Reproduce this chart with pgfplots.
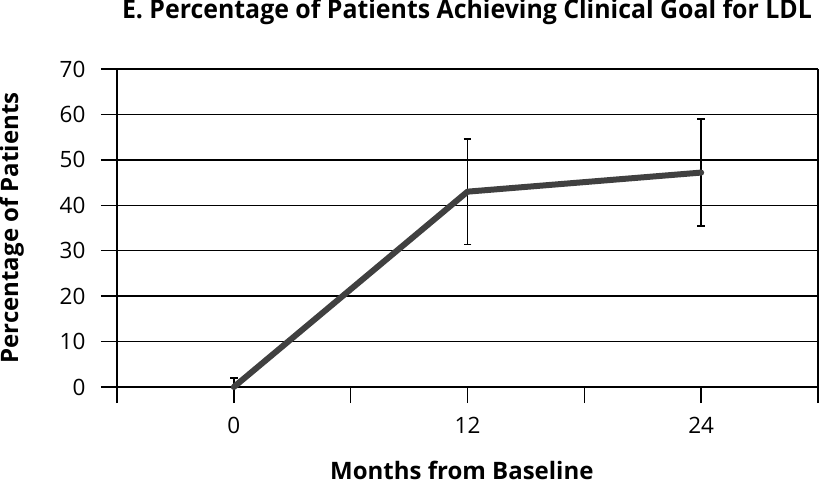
\documentclass[border=0pt]{standalone}
\usepackage{pgfplots}
\pgfplotsset{compat=1.18}
\usepackage{fontspec}
\setmainfont{Open Sans}
\definecolor{linegray}{RGB}{64,64,64}
\begin{document}
\begin{tikzpicture}[x=1pt,y=1pt]
\useasboundingbox (-117,-100) rectangle (704,387);
\begin{axis}[
  at={(0,0)}, anchor=south west,
  scale only axis, width=701pt, height=318pt,
  xmin=-6, xmax=30, ymin=0, ymax=70,
  xtick={-6,0,6,12,18,24,30}, xticklabels={,0,,12,,24,},
  ytick={0,10,...,70},
  xtick pos=lower, ytick pos=left,
  tick align=outside, major tick length=16pt,
  ymajorgrids, grid style={black, line width=1.4pt},
  axis line style={black, line width=1.4pt},
  tick style={black, line width=1.4pt},
  axis x line*=bottom,
  /pgf/number format/assume math mode=true,
  tick label style={font=\fontsize{22.5}{22.5}\selectfont},
  yticklabel style={xshift=-12pt},
  xticklabel style={yshift=-11pt},
  title={\resizebox{690pt}{\height}{E. Percentage of Patients Achieving Clinical Goal for LDL}},
  title style={at={(axis description cs:0.4993,1)}, anchor=base, yshift=44pt, font=\bfseries\fontsize{26}{26}\selectfont},
  xlabel={Months from Baseline},
  xlabel style={at={(axis description cs:0.492,-0.292)}, anchor=base, font=\bfseries\fontsize{24}{24}\selectfont},
  ylabel={Percentage of Patients},
  ylabel style={at={(axis description cs:-0.15,0.5)}, anchor=center, rotate=0, font=\bfseries\fontsize{24}{24}\selectfont},
  clip=false,
]
\addplot[draw=none, forget plot, error bars/.cd, y dir=both, y explicit,
  error bar style={black, line width=1.4pt},
  error mark options={rotate=90, mark size=3.8pt, line width=1.4pt, black}]
  coordinates {(0,0) += (0,2) -= (0,0) (12,43.0) += (0,11.6) -= (0,11.6) (24,47.2) += (0,11.8) -= (0,11.8)};
\addplot[draw=linegray, line width=6pt, no marks, line cap=round, line join=round]
  coordinates {(0,0) (12,43.0) (24,47.2)};
\end{axis}
\draw[black, line width=1.4pt] (701,0) -- (701,318);
\draw[black, line width=1.4pt] (0,318) -- (701,318);
\end{tikzpicture}
\end{document}
